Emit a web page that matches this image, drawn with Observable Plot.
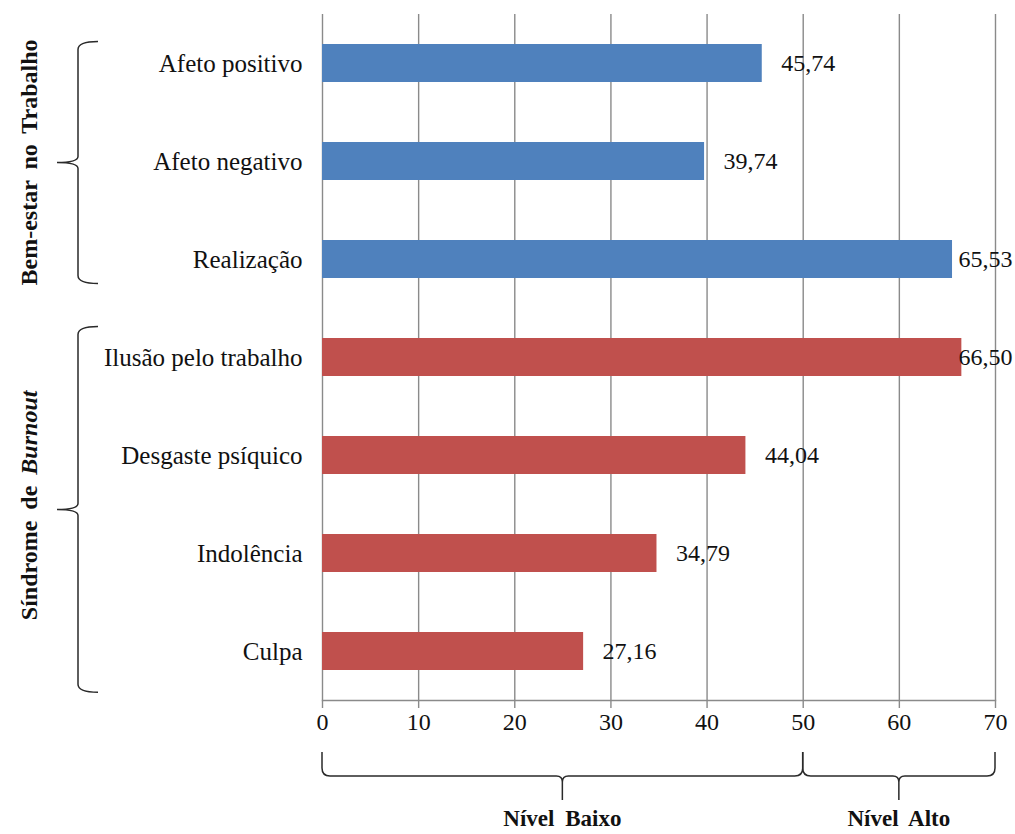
<!DOCTYPE html>
<html>
<head>
<meta charset="utf-8">
<script src="https://cdn.jsdelivr.net/npm/d3@7"></script>
<script src="https://cdn.jsdelivr.net/npm/@observablehq/plot@0.6"></script>
<style>
  html, body { margin: 0; padding: 0; background: #fff; }
  #chart svg { display: block; }
</style>
</head>
<body>
<div id="chart"></div>
<script>
// ---- data ----
const categories = ["Afeto positivo", "Afeto negativo", "Realização", "Ilusão pelo trabalho", "Desgaste psíquico", "Indolência", "Culpa"];
const values = [45.74, 39.74, 65.53, 66.50, 44.04, 34.79, 27.16];
const groups = ["Bem-estar no Trabalho", "Bem-estar no Trabalho", "Bem-estar no Trabalho", "Síndrome de Burnout", "Síndrome de Burnout", "Síndrome de Burnout", "Síndrome de Burnout"];
const xTicks = [0, 10, 20, 30, 40, 50, 60, 70];
const levelNames = ["Nível Baixo", "Nível Alto"];
const levelRanges = [[0, 50], [50, 70]];

const rows = categories.map((c, i) => ({category: c, value: values[i], group: groups[i]}));
const fmt = v => v.toFixed(2).replace(".", ",");
const FONT = "Liberation Serif, Times New Roman, serif";
const XMAX = 70;

const plot = Plot.plot({
  width: 1015,
  height: 834,
  marginLeft: 322,
  marginRight: 20,
  marginTop: 14,
  marginBottom: 134,
  style: {fontFamily: FONT, fontSize: "24px", color: "#111", background: "#fff"},
  x: {domain: [0, XMAX], ticks: xTicks},
  y: {domain: categories, padding: 0.61, paddingOuter: 0.305},
  color: {domain: ["Bem-estar no Trabalho", "Síndrome de Burnout"], range: ["#4f81bd", "#c0504d"]},
  marks: [
    Plot.gridX(xTicks, {stroke: "#8a8a8a", strokeOpacity: 1, strokeWidth: 1.4}),
    Plot.frame({anchor: "bottom", stroke: "#8a8a8a", strokeWidth: 1.4}),
    Plot.barX(rows, {x: "value", y: "category", fill: "group"}),
    Plot.axisX({ticks: xTicks, tickSize: 8, tickPadding: 4, tickFormat: d3.format("d"), stroke: "#8a8a8a", strokeWidth: 1.4, fontSize: 24, label: null}),
    Plot.axisY({tickSize: 0, tickPadding: 20, fontSize: 25, label: null, style: {letterSpacing: "0.7px"}}),
    Plot.text(rows.filter(d => d.value < 60), {x: "value", y: "category", text: d => fmt(d.value), textAnchor: "start", dx: 19, fontSize: 24, fill: "#111"}),
    Plot.text(rows.filter(d => d.value >= 60), {y: "category", frameAnchor: "right", text: d => fmt(d.value), textAnchor: "end", dx: 17, fontSize: 24, fill: "#111"})
  ]
});
document.getElementById("chart").appendChild(plot);

// ---- annotations (brackets, group labels) derived from the plot's scales ----
const svg = d3.select(plot);
const xs = plot.scale("x");
const ys = plot.scale("y");
const step = ys.step, bw = ys.bandwidth;
const yc = c => ys.apply(c) + bw / 2;
const ann = svg.append("g").attr("fill", "none").attr("stroke", "#2a2a2a").attr("stroke-width", 1.5);

function leftBrace(yTop, yBot, yMid, xv, xArm, xTip) {
  const r = 8;
  return `M${xArm},${yTop} Q${xv},${yTop} ${xv},${yTop + r} L${xv},${yMid - 6} Q${xv},${yMid} ${xTip},${yMid} ` +
         `M${xv},${yMid + 6} Q${xv},${yMid} ${xTip},${yMid} ` +
         `M${xv},${yMid + 6} L${xv},${yBot - r} Q${xv},${yBot} ${xArm},${yBot}`;
}

const g1 = categories.filter((c, i) => groups[i] === groups[0]);
const g2 = categories.filter((c, i) => groups[i] !== groups[0]);
const b1top = yc(g1[0]) - 0.22 * step, b1bot = yc(g1[g1.length - 1]) + 0.25 * step;
const b2top = yc(g2[0]) - 0.31 * step, b2bot = yc(g2[g2.length - 1]) + 0.42 * step;
ann.append("path").attr("d", leftBrace(b1top, b1bot, (b1top + b1bot) / 2, 78, 98, 57));
ann.append("path").attr("d", leftBrace(b2top, b2bot, (b2top + b2bot) / 2, 78, 98, 57));

const glab = svg.append("g").attr("font-family", FONT).attr("font-weight", "bold").attr("font-size", 24).attr("fill", "#111").attr("text-anchor", "middle");
glab.append("text").attr("transform", `translate(29,${(b1top + b1bot) / 2}) rotate(-90)`).attr("dy", "0.35em").style("word-spacing", "5px").text("Bem-estar no Trabalho");
const t2 = glab.append("text").attr("transform", `translate(29,${(b2top + b2bot) / 2 - 4}) rotate(-90)`).attr("dy", "0.35em").style("word-spacing", "5px");
t2.append("tspan").text("Síndrome de ");
t2.append("tspan").attr("font-style", "italic").text("Burnout");

// bottom braces
function bottomBrace(x0, x1, xm, yTop, yLine, yTip) {
  const r = 8;
  return `M${x0},${yTop} L${x0},${yLine - r} Q${x0},${yLine} ${x0 + r},${yLine} L${xm - 6},${yLine} Q${xm},${yLine} ${xm},${yLine + 6} L${xm},${yTip} ` +
         `M${xm},${yLine + 6} Q${xm},${yLine} ${xm + 6},${yLine} L${x1 - r},${yLine} Q${x1},${yLine} ${x1},${yLine - r} L${x1},${yTop}`;
}
levelRanges.forEach((r, i) => {
  const x0 = xs.apply(r[0]), x1 = xs.apply(r[1]);
  const xm = (x0 + x1) / 2;
  ann.append("path").attr("d", bottomBrace(x0, x1, xm, 752, 776, 800));
  svg.append("text").attr("x", xm).attr("y", 826).attr("text-anchor", "middle")
    .attr("font-family", FONT).attr("font-weight", "bold").attr("font-size", 23).attr("fill", "#111")
    .style("word-spacing", "5px").text(levelNames[i]);
});
</script>
</body>
</html>
